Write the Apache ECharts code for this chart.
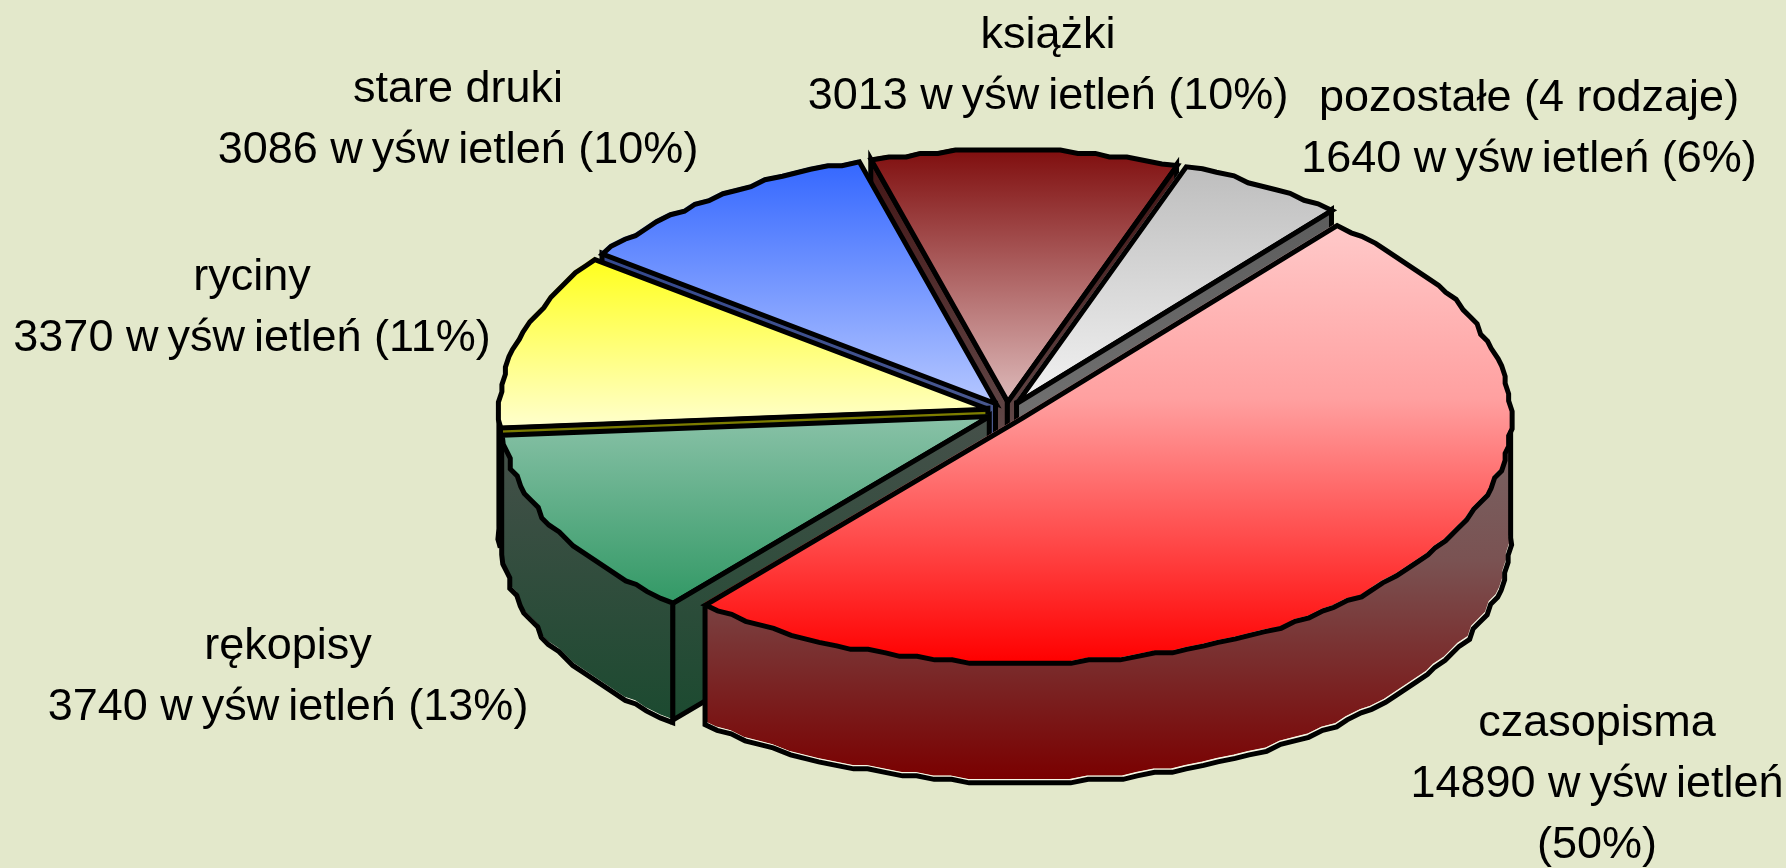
<!DOCTYPE html>
<html>
<head>
<meta charset="utf-8">
<style>html,body{margin:0;padding:0;background:#e3e8cb}#c{width:1786px;height:868px}</style>
<script src="https://cdn.jsdelivr.net/npm/echarts@6/dist/echarts.min.js"></script>
</head>
<body>
<div id="c"></div>
<script>
// data (in the order of the pie, clockwise)
const categories = ['czasopisma', 'rękopisy', 'ryciny', 'stare druki', 'książki', 'pozostałe (4 rodzaje)'];
const values = [14890, 3740, 3370, 3086, 3013, 1640];
const percents = [50, 13, 11, 10, 10, 6];
const unitText = 'w\u2009yśw\u2009ietleń';

// layout
const CX = 1005.7, CY = 410, RX = 489, RY_FRONT = 245, RY_BACK = 252, DEPTH = 118, EXPLODE = 0.04;
const START_ANGLE = 49.9;
const paintOrder = [4, 5, 3, 2, 1, 0];
const topColors = [
  ['#ffcaca', '#ffa0a0', '#ff0000'], ['#8ac2a8', '#339966'], ['#ffff1a', '#ffffcc'],
  ['#3366ff', '#b4c6ff'], ['#7f0d0d', '#dcb8b8'], ['#bdbdbd', '#f2f2f2']
];
const wallColors = [
  ['#786666', '#7a5252', '#7a0000'], ['#46504a', '#1c4a30'], ['#808000', '#666600'],
  ['#33488f', '#59648f'], ['#431515', '#6a5858'], ['#5c5c5c', '#7a7a7a']
];
const labelPos = [[1597, 693], [288, 616], [252, 247], [458, 59], [1048, 5], [1529, 68]];

const total = values.reduce((a, b) => a + b, 0);
const rad = d => d * Math.PI / 180;
const q = (v, g) => Math.round(v / g) * g;

function rel(a, jag) {
  const c = Math.cos(rad(a)), s = Math.sin(rad(a));
  const x = RX * c, y = -s * (s > 0 ? RY_BACK : RY_FRONT);
  return jag ? [q(x, 3.5), q(y, 3.5)] : [x, y];
}
function arc(cx, cy, a0, a1, dy) {
  const pts = [], n = Math.max(1, Math.round((a0 - a1) / 2));
  for (let i = 0; i <= n; i++) {
    const r = rel(a0 + (a1 - a0) * i / n, i > 0 && i < n);
    pts.push([cx + r[0], cy + r[1] + (dy || 0)]);
  }
  return pts;
}
const grad = c => ({
  type: 'linear', x: 0, y: 0, x2: 0, y2: 1,
  colorStops: c.length === 3
    ? [{ offset: 0, color: c[0] }, { offset: 0.4, color: c[1] }, { offset: 1, color: c[2] }]
    : [{ offset: 0, color: c[0] }, { offset: 1, color: c[1] }]
});
const poly = (points, fill) => ({ type: 'polygon', shape: { points }, style: { fill } });
const outline = (points, closed, w, col, dx, dy) => ({
  type: closed ? 'polygon' : 'polyline', shape: { points }, x: dx, y: dy,
  style: { fill: 'none', stroke: col, lineWidth: w, lineJoin: 'miter', miterLimit: 4 }
});
const LINE = 5;

function renderItem(params, api) {
  const idx = paintOrder[params.dataIndex];
  const value = api.value(0);
  let before = 0;
  for (let i = 0; i < idx; i++) before += values[i];
  const a0 = START_ANGLE - before / total * 360;
  const a1 = a0 - value / total * 360;
  const mid = (a0 + a1) / 2;
  const off = rel(mid, false);
  const cx = CX + EXPLODE * off[0], cy = CY + EXPLODE * off[1];
  const children = [];
  const topArc = arc(cx, cy, a0, a1);
  const wg = grad(wallColors[idx]);
  // radial walls that face the viewer
  [[a0, Math.cos(rad(a0)) < 0], [a1, Math.cos(rad(a1)) > 0]].forEach(([a, visible]) => {
    if (!visible) return;
    const r = rel(a, false);
    const pts = [[cx, cy], [cx + r[0], cy + r[1]], [cx + r[0], cy + r[1] + DEPTH], [cx, cy + DEPTH]];
    children.push(poly(pts, wg), outline(pts, true, LINE, '#000', 1, 1));
  });
  // outer wall, the part that faces the viewer
  const v0 = Math.min(a0, 0), v1 = Math.max(a1, -180);
  if (v0 > v1) {
    const up = arc(cx, cy, v0, v1, 0), low = arc(cx, cy, v0, v1, DEPTH);
    children.push(poly(up.concat(low.slice().reverse()), wg));
    const edge = [up[0]].concat(low, [up[up.length - 1]]);
    children.push(outline(low, false, 2.5, '#f6f6e4', 0, 1));
    children.push(outline(edge, false, LINE, '#000', 1, 3.5));
  }
  // top surface
  const top = [[cx, cy]].concat(topArc);
  children.push(poly(top, grad(topColors[idx])));
  children.push(outline(top, true, LINE, '#000', 1.5, 2));
  return { type: 'group', children };
}

function renderLabel(params, api) {
  const idx = paintOrder[params.dataIndex];
  const sep = idx === 0 ? '\n' : ' ';
  const text = categories[idx] + '\n' + values[idx] + ' ' + unitText + sep + '(' + percents[idx] + '%)';
  return {
    type: 'text', x: labelPos[idx][0], y: labelPos[idx][1],
    style: { text, fill: '#000', font: '45px "Liberation Sans", Arial, sans-serif', textAlign: 'center', textVerticalAlign: 'top', lineHeight: 61 }
  };
}

const seriesData = paintOrder.map(i => ({ name: categories[i], value: values[i] }));
const chart = echarts.init(document.getElementById('c'), null, { renderer: 'canvas', width: 1786, height: 868 });
chart.setOption({
  animation: false,
  backgroundColor: '#e3e8cb',
  series: [
    { type: 'custom', coordinateSystem: 'none', renderItem, data: seriesData, silent: true, z: 2 },
    { type: 'custom', coordinateSystem: 'none', renderItem: renderLabel, data: seriesData, silent: true, z: 3 }
  ]
});
</script>
</body>
</html>
